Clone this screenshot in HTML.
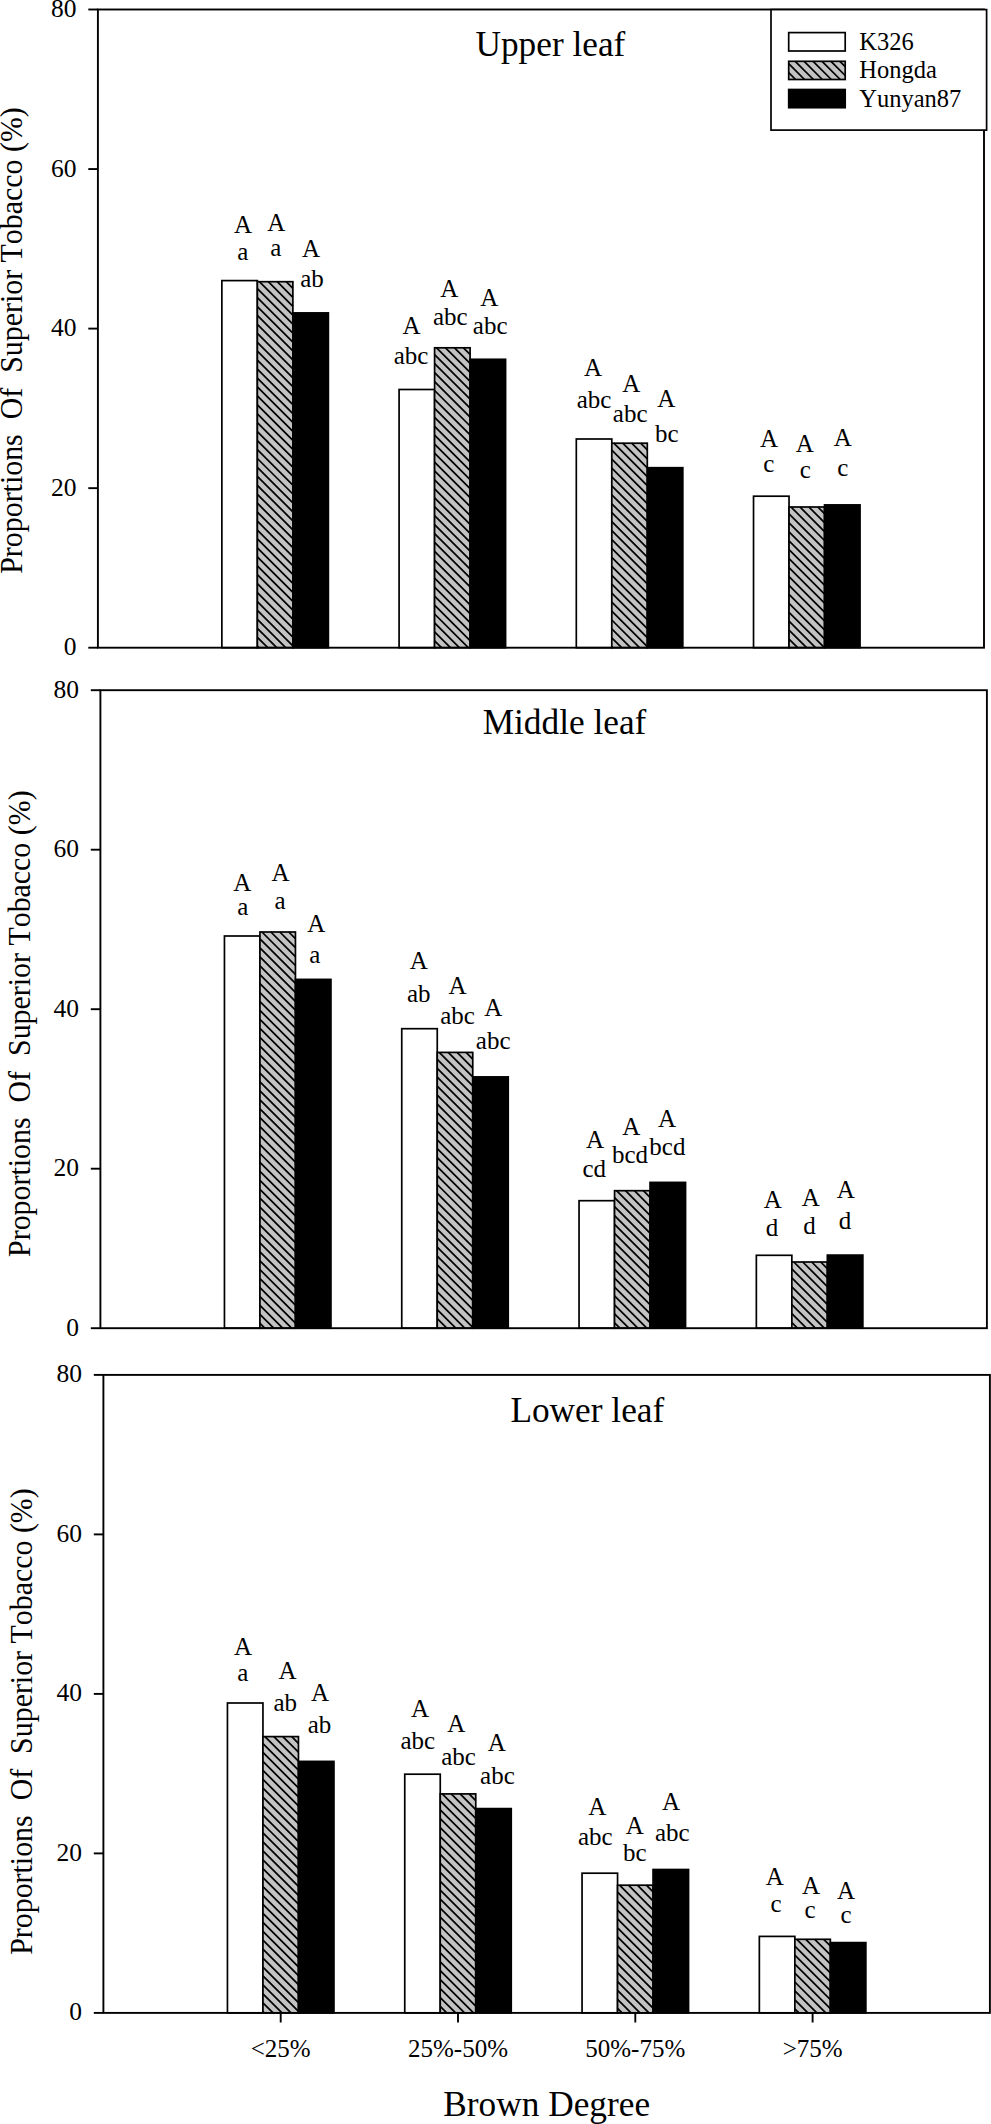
<!DOCTYPE html>
<html lang="en">
<head>
<meta charset="utf-8">
<title>Proportions Of Superior Tobacco by Brown Degree</title>
<style>
html,body{margin:0;padding:0;background:#fff}
body{width:991px;height:2124px;overflow:hidden}
svg text{font-family:"Liberation Serif", "Times New Roman", serif;font-kerning:none;font-variant-ligatures:none}
</style>
</head>
<body>
<svg width="991" height="2124" viewBox="0 0 991 2124" style="display:block;font-family:'Liberation Serif', 'Times New Roman', serif" fill="#000">
<rect x="0" y="0" width="991" height="2124" fill="#fff"/>
<g>
<rect x="221.87" y="280.60" width="35.50" height="367.10" fill="#fff" stroke="#000" stroke-width="1.70"/>
<rect x="257.37" y="281.70" width="35.50" height="366.00" fill="#c3c3c3"/>
<path d="M257.37,646.24L258.83,647.70M257.37,637.30L267.77,647.70M257.37,628.36L276.71,647.70M257.37,619.42L285.65,647.70M257.37,610.48L292.87,645.98M257.37,601.54L292.87,637.04M257.37,592.60L292.87,628.10M257.37,583.66L292.87,619.16M257.37,574.72L292.87,610.22M257.37,565.78L292.87,601.28M257.37,556.84L292.87,592.34M257.37,547.90L292.87,583.40M257.37,538.96L292.87,574.46M257.37,530.02L292.87,565.52M257.37,521.08L292.87,556.58M257.37,512.14L292.87,547.64M257.37,503.20L292.87,538.70M257.37,494.26L292.87,529.76M257.37,485.32L292.87,520.82M257.37,476.38L292.87,511.88M257.37,467.44L292.87,502.94M257.37,458.50L292.87,494.00M257.37,449.56L292.87,485.06M257.37,440.62L292.87,476.12M257.37,431.68L292.87,467.18M257.37,422.74L292.87,458.24M257.37,413.80L292.87,449.30M257.37,404.86L292.87,440.36M257.37,395.92L292.87,431.42M257.37,386.98L292.87,422.48M257.37,378.04L292.87,413.54M257.37,369.10L292.87,404.60M257.37,360.16L292.87,395.66M257.37,351.22L292.87,386.72M257.37,342.28L292.87,377.78M257.37,333.34L292.87,368.84M257.37,324.40L292.87,359.90M257.37,315.46L292.87,350.96M257.37,306.52L292.87,342.02M257.37,297.58L292.87,333.08M257.37,288.64L292.87,324.14M259.37,281.70L292.87,315.20M268.31,281.70L292.87,306.26M277.25,281.70L292.87,297.32M286.19,281.70L292.87,288.38" stroke="#000" stroke-width="1.75" fill="none"/>
<rect x="257.37" y="281.70" width="35.50" height="366.00" fill="none" stroke="#000" stroke-width="1.70"/>
<rect x="292.87" y="312.90" width="35.50" height="334.80" fill="#000" stroke="#000" stroke-width="1.70"/>
<rect x="399.09" y="389.50" width="35.50" height="258.20" fill="#fff" stroke="#000" stroke-width="1.70"/>
<rect x="434.59" y="347.80" width="35.50" height="299.90" fill="#c3c3c3"/>
<path d="M434.59,640.82L441.47,647.70M434.59,631.88L450.41,647.70M434.59,622.94L459.35,647.70M434.59,614.00L468.29,647.70M434.59,605.06L470.09,640.56M434.59,596.12L470.09,631.62M434.59,587.18L470.09,622.68M434.59,578.24L470.09,613.74M434.59,569.30L470.09,604.80M434.59,560.36L470.09,595.86M434.59,551.42L470.09,586.92M434.59,542.48L470.09,577.98M434.59,533.54L470.09,569.04M434.59,524.60L470.09,560.10M434.59,515.66L470.09,551.16M434.59,506.72L470.09,542.22M434.59,497.78L470.09,533.28M434.59,488.84L470.09,524.34M434.59,479.90L470.09,515.40M434.59,470.96L470.09,506.46M434.59,462.02L470.09,497.52M434.59,453.08L470.09,488.58M434.59,444.14L470.09,479.64M434.59,435.20L470.09,470.70M434.59,426.26L470.09,461.76M434.59,417.32L470.09,452.82M434.59,408.38L470.09,443.88M434.59,399.44L470.09,434.94M434.59,390.50L470.09,426.00M434.59,381.56L470.09,417.06M434.59,372.62L470.09,408.12M434.59,363.68L470.09,399.18M434.59,354.74L470.09,390.24M436.59,347.80L470.09,381.30M445.53,347.80L470.09,372.36M454.47,347.80L470.09,363.42M463.41,347.80L470.09,354.48" stroke="#000" stroke-width="1.75" fill="none"/>
<rect x="434.59" y="347.80" width="35.50" height="299.90" fill="none" stroke="#000" stroke-width="1.70"/>
<rect x="470.09" y="359.30" width="35.50" height="288.40" fill="#000" stroke="#000" stroke-width="1.70"/>
<rect x="576.31" y="439.00" width="35.50" height="208.70" fill="#fff" stroke="#000" stroke-width="1.70"/>
<rect x="611.81" y="443.20" width="35.50" height="204.50" fill="#c3c3c3"/>
<path d="M611.81,646.82L612.69,647.70M611.81,637.88L621.63,647.70M611.81,628.94L630.57,647.70M611.81,620.00L639.51,647.70M611.81,611.06L647.31,646.56M611.81,602.12L647.31,637.62M611.81,593.18L647.31,628.68M611.81,584.24L647.31,619.74M611.81,575.30L647.31,610.80M611.81,566.36L647.31,601.86M611.81,557.42L647.31,592.92M611.81,548.48L647.31,583.98M611.81,539.54L647.31,575.04M611.81,530.60L647.31,566.10M611.81,521.66L647.31,557.16M611.81,512.72L647.31,548.22M611.81,503.78L647.31,539.28M611.81,494.84L647.31,530.34M611.81,485.90L647.31,521.40M611.81,476.96L647.31,512.46M611.81,468.02L647.31,503.52M611.81,459.08L647.31,494.58M611.81,450.14L647.31,485.64M613.81,443.20L647.31,476.70M622.75,443.20L647.31,467.76M631.69,443.20L647.31,458.82M640.63,443.20L647.31,449.88" stroke="#000" stroke-width="1.75" fill="none"/>
<rect x="611.81" y="443.20" width="35.50" height="204.50" fill="none" stroke="#000" stroke-width="1.70"/>
<rect x="647.31" y="467.70" width="35.50" height="180.00" fill="#000" stroke="#000" stroke-width="1.70"/>
<rect x="753.53" y="496.20" width="35.50" height="151.50" fill="#fff" stroke="#000" stroke-width="1.70"/>
<rect x="789.03" y="507.00" width="35.50" height="140.70" fill="#c3c3c3"/>
<path d="M789.03,639.10L797.63,647.70M789.03,630.16L806.57,647.70M789.03,621.22L815.51,647.70M789.03,612.28L824.45,647.70M789.03,603.34L824.53,638.84M789.03,594.40L824.53,629.90M789.03,585.46L824.53,620.96M789.03,576.52L824.53,612.02M789.03,567.58L824.53,603.08M789.03,558.64L824.53,594.14M789.03,549.70L824.53,585.20M789.03,540.76L824.53,576.26M789.03,531.82L824.53,567.32M789.03,522.88L824.53,558.38M789.03,513.94L824.53,549.44M791.03,507.00L824.53,540.50M799.97,507.00L824.53,531.56M808.91,507.00L824.53,522.62M817.85,507.00L824.53,513.68" stroke="#000" stroke-width="1.75" fill="none"/>
<rect x="789.03" y="507.00" width="35.50" height="140.70" fill="none" stroke="#000" stroke-width="1.70"/>
<rect x="824.53" y="504.90" width="35.50" height="142.80" fill="#000" stroke="#000" stroke-width="1.70"/>
<rect x="97.90" y="9.50" width="886.10" height="638.20" fill="none" stroke="#000" stroke-width="1.90"/>
<line x1="88.30" y1="9.50" x2="97.90" y2="9.50" stroke="#000" stroke-width="1.90"/>
<text x="76.60" y="17.00" font-size="25.50" text-anchor="end">80</text>
<line x1="88.30" y1="169.05" x2="97.90" y2="169.05" stroke="#000" stroke-width="1.90"/>
<text x="76.60" y="176.55" font-size="25.50" text-anchor="end">60</text>
<line x1="88.30" y1="328.60" x2="97.90" y2="328.60" stroke="#000" stroke-width="1.90"/>
<text x="76.60" y="336.10" font-size="25.50" text-anchor="end">40</text>
<line x1="88.30" y1="488.15" x2="97.90" y2="488.15" stroke="#000" stroke-width="1.90"/>
<text x="76.60" y="495.65" font-size="25.50" text-anchor="end">20</text>
<line x1="88.30" y1="647.70" x2="97.90" y2="647.70" stroke="#000" stroke-width="1.90"/>
<text x="76.60" y="655.20" font-size="25.50" text-anchor="end">0</text>
<text x="550.40" y="56.20" font-size="35.30" text-anchor="middle">Upper leaf</text>
<text transform="translate(21.90,573.75) rotate(-90)" font-size="30.60" textLength="466.5" lengthAdjust="spacingAndGlyphs" xml:space="preserve" style="white-space:pre">Proportions  Of  Superior Tobacco (%)</text>
<text x="243.10" y="233.20" font-size="25.00" text-anchor="middle">A</text>
<text x="242.80" y="260.10" font-size="25.00" text-anchor="middle">a</text>
<text x="276.40" y="231.40" font-size="25.00" text-anchor="middle">A</text>
<text x="275.80" y="255.60" font-size="25.00" text-anchor="middle">a</text>
<text x="311.00" y="257.20" font-size="25.00" text-anchor="middle">A</text>
<text x="312.00" y="287.30" font-size="25.00" text-anchor="middle">ab</text>
<text x="411.60" y="333.90" font-size="25.00" text-anchor="middle">A</text>
<text x="411.10" y="364.00" font-size="25.00" text-anchor="middle">abc</text>
<text x="449.30" y="296.60" font-size="25.00" text-anchor="middle">A</text>
<text x="450.30" y="324.90" font-size="25.00" text-anchor="middle">abc</text>
<text x="489.30" y="305.60" font-size="25.00" text-anchor="middle">A</text>
<text x="490.20" y="334.10" font-size="25.00" text-anchor="middle">abc</text>
<text x="593.10" y="376.40" font-size="25.00" text-anchor="middle">A</text>
<text x="594.10" y="407.60" font-size="25.00" text-anchor="middle">abc</text>
<text x="631.20" y="391.80" font-size="25.00" text-anchor="middle">A</text>
<text x="630.20" y="422.40" font-size="25.00" text-anchor="middle">abc</text>
<text x="666.30" y="407.10" font-size="25.00" text-anchor="middle">A</text>
<text x="666.80" y="441.80" font-size="25.00" text-anchor="middle">bc</text>
<text x="769.00" y="447.30" font-size="25.00" text-anchor="middle">A</text>
<text x="768.70" y="472.10" font-size="25.00" text-anchor="middle">c</text>
<text x="804.70" y="451.80" font-size="25.00" text-anchor="middle">A</text>
<text x="805.40" y="478.20" font-size="25.00" text-anchor="middle">c</text>
<text x="842.70" y="446.30" font-size="25.00" text-anchor="middle">A</text>
<text x="842.70" y="476.00" font-size="25.00" text-anchor="middle">c</text>
</g>
<g>
<rect x="224.45" y="936.00" width="35.50" height="392.20" fill="#fff" stroke="#000" stroke-width="1.70"/>
<rect x="259.95" y="932.00" width="35.50" height="396.20" fill="#c3c3c3"/>
<path d="M259.95,1323.36L264.79,1328.20M259.95,1314.42L273.73,1328.20M259.95,1305.48L282.67,1328.20M259.95,1296.54L291.61,1328.20M259.95,1287.60L295.45,1323.10M259.95,1278.66L295.45,1314.16M259.95,1269.72L295.45,1305.22M259.95,1260.78L295.45,1296.28M259.95,1251.84L295.45,1287.34M259.95,1242.90L295.45,1278.40M259.95,1233.96L295.45,1269.46M259.95,1225.02L295.45,1260.52M259.95,1216.08L295.45,1251.58M259.95,1207.14L295.45,1242.64M259.95,1198.20L295.45,1233.70M259.95,1189.26L295.45,1224.76M259.95,1180.32L295.45,1215.82M259.95,1171.38L295.45,1206.88M259.95,1162.44L295.45,1197.94M259.95,1153.50L295.45,1189.00M259.95,1144.56L295.45,1180.06M259.95,1135.62L295.45,1171.12M259.95,1126.68L295.45,1162.18M259.95,1117.74L295.45,1153.24M259.95,1108.80L295.45,1144.30M259.95,1099.86L295.45,1135.36M259.95,1090.92L295.45,1126.42M259.95,1081.98L295.45,1117.48M259.95,1073.04L295.45,1108.54M259.95,1064.10L295.45,1099.60M259.95,1055.16L295.45,1090.66M259.95,1046.22L295.45,1081.72M259.95,1037.28L295.45,1072.78M259.95,1028.34L295.45,1063.84M259.95,1019.40L295.45,1054.90M259.95,1010.46L295.45,1045.96M259.95,1001.52L295.45,1037.02M259.95,992.58L295.45,1028.08M259.95,983.64L295.45,1019.14M259.95,974.70L295.45,1010.20M259.95,965.76L295.45,1001.26M259.95,956.82L295.45,992.32M259.95,947.88L295.45,983.38M259.95,938.94L295.45,974.44M261.95,932.00L295.45,965.50M270.89,932.00L295.45,956.56M279.83,932.00L295.45,947.62M288.77,932.00L295.45,938.68" stroke="#000" stroke-width="1.75" fill="none"/>
<rect x="259.95" y="932.00" width="35.50" height="396.20" fill="none" stroke="#000" stroke-width="1.70"/>
<rect x="295.45" y="979.40" width="35.50" height="348.80" fill="#000" stroke="#000" stroke-width="1.70"/>
<rect x="401.75" y="1028.70" width="35.50" height="299.50" fill="#fff" stroke="#000" stroke-width="1.70"/>
<rect x="437.25" y="1052.40" width="35.50" height="275.80" fill="#c3c3c3"/>
<path d="M437.25,1327.54L437.91,1328.20M437.25,1318.60L446.85,1328.20M437.25,1309.66L455.79,1328.20M437.25,1300.72L464.73,1328.20M437.25,1291.78L472.75,1327.28M437.25,1282.84L472.75,1318.34M437.25,1273.90L472.75,1309.40M437.25,1264.96L472.75,1300.46M437.25,1256.02L472.75,1291.52M437.25,1247.08L472.75,1282.58M437.25,1238.14L472.75,1273.64M437.25,1229.20L472.75,1264.70M437.25,1220.26L472.75,1255.76M437.25,1211.32L472.75,1246.82M437.25,1202.38L472.75,1237.88M437.25,1193.44L472.75,1228.94M437.25,1184.50L472.75,1220.00M437.25,1175.56L472.75,1211.06M437.25,1166.62L472.75,1202.12M437.25,1157.68L472.75,1193.18M437.25,1148.74L472.75,1184.24M437.25,1139.80L472.75,1175.30M437.25,1130.86L472.75,1166.36M437.25,1121.92L472.75,1157.42M437.25,1112.98L472.75,1148.48M437.25,1104.04L472.75,1139.54M437.25,1095.10L472.75,1130.60M437.25,1086.16L472.75,1121.66M437.25,1077.22L472.75,1112.72M437.25,1068.28L472.75,1103.78M437.25,1059.34L472.75,1094.84M439.25,1052.40L472.75,1085.90M448.19,1052.40L472.75,1076.96M457.13,1052.40L472.75,1068.02M466.07,1052.40L472.75,1059.08" stroke="#000" stroke-width="1.75" fill="none"/>
<rect x="437.25" y="1052.40" width="35.50" height="275.80" fill="none" stroke="#000" stroke-width="1.70"/>
<rect x="472.75" y="1076.90" width="35.50" height="251.30" fill="#000" stroke="#000" stroke-width="1.70"/>
<rect x="579.05" y="1200.70" width="35.50" height="127.50" fill="#fff" stroke="#000" stroke-width="1.70"/>
<rect x="614.55" y="1190.70" width="35.50" height="137.50" fill="#c3c3c3"/>
<path d="M614.55,1322.80L619.95,1328.20M614.55,1313.86L628.89,1328.20M614.55,1304.92L637.83,1328.20M614.55,1295.98L646.77,1328.20M614.55,1287.04L650.05,1322.54M614.55,1278.10L650.05,1313.60M614.55,1269.16L650.05,1304.66M614.55,1260.22L650.05,1295.72M614.55,1251.28L650.05,1286.78M614.55,1242.34L650.05,1277.84M614.55,1233.40L650.05,1268.90M614.55,1224.46L650.05,1259.96M614.55,1215.52L650.05,1251.02M614.55,1206.58L650.05,1242.08M614.55,1197.64L650.05,1233.14M616.55,1190.70L650.05,1224.20M625.49,1190.70L650.05,1215.26M634.43,1190.70L650.05,1206.32M643.37,1190.70L650.05,1197.38" stroke="#000" stroke-width="1.75" fill="none"/>
<rect x="614.55" y="1190.70" width="35.50" height="137.50" fill="none" stroke="#000" stroke-width="1.70"/>
<rect x="650.05" y="1182.40" width="35.50" height="145.80" fill="#000" stroke="#000" stroke-width="1.70"/>
<rect x="756.35" y="1255.30" width="35.50" height="72.90" fill="#fff" stroke="#000" stroke-width="1.70"/>
<rect x="791.85" y="1262.00" width="35.50" height="66.20" fill="#c3c3c3"/>
<path d="M791.85,1322.58L797.47,1328.20M791.85,1313.64L806.41,1328.20M791.85,1304.70L815.35,1328.20M791.85,1295.76L824.29,1328.20M791.85,1286.82L827.35,1322.32M791.85,1277.88L827.35,1313.38M791.85,1268.94L827.35,1304.44M793.85,1262.00L827.35,1295.50M802.79,1262.00L827.35,1286.56M811.73,1262.00L827.35,1277.62M820.67,1262.00L827.35,1268.68" stroke="#000" stroke-width="1.75" fill="none"/>
<rect x="791.85" y="1262.00" width="35.50" height="66.20" fill="none" stroke="#000" stroke-width="1.70"/>
<rect x="827.35" y="1255.10" width="35.50" height="73.10" fill="#000" stroke="#000" stroke-width="1.70"/>
<rect x="100.40" y="690.20" width="886.50" height="638.00" fill="none" stroke="#000" stroke-width="1.90"/>
<line x1="90.80" y1="690.20" x2="100.40" y2="690.20" stroke="#000" stroke-width="1.90"/>
<text x="79.10" y="697.70" font-size="25.50" text-anchor="end">80</text>
<line x1="90.80" y1="849.70" x2="100.40" y2="849.70" stroke="#000" stroke-width="1.90"/>
<text x="79.10" y="857.20" font-size="25.50" text-anchor="end">60</text>
<line x1="90.80" y1="1009.20" x2="100.40" y2="1009.20" stroke="#000" stroke-width="1.90"/>
<text x="79.10" y="1016.70" font-size="25.50" text-anchor="end">40</text>
<line x1="90.80" y1="1168.70" x2="100.40" y2="1168.70" stroke="#000" stroke-width="1.90"/>
<text x="79.10" y="1176.20" font-size="25.50" text-anchor="end">20</text>
<line x1="90.80" y1="1328.20" x2="100.40" y2="1328.20" stroke="#000" stroke-width="1.90"/>
<text x="79.10" y="1335.70" font-size="25.50" text-anchor="end">0</text>
<text x="564.50" y="733.70" font-size="35.30" text-anchor="middle">Middle leaf</text>
<text transform="translate(29.70,1256.90) rotate(-90)" font-size="30.60" textLength="466.5" lengthAdjust="spacingAndGlyphs" xml:space="preserve" style="white-space:pre">Proportions  Of  Superior Tobacco (%)</text>
<text x="242.40" y="890.70" font-size="25.00" text-anchor="middle">A</text>
<text x="242.80" y="915.10" font-size="25.00" text-anchor="middle">a</text>
<text x="280.50" y="881.40" font-size="25.00" text-anchor="middle">A</text>
<text x="280.10" y="909.00" font-size="25.00" text-anchor="middle">a</text>
<text x="316.30" y="931.60" font-size="25.00" text-anchor="middle">A</text>
<text x="314.80" y="962.80" font-size="25.00" text-anchor="middle">a</text>
<text x="418.80" y="969.00" font-size="25.00" text-anchor="middle">A</text>
<text x="418.80" y="1001.80" font-size="25.00" text-anchor="middle">ab</text>
<text x="457.60" y="994.10" font-size="25.00" text-anchor="middle">A</text>
<text x="457.50" y="1024.10" font-size="25.00" text-anchor="middle">abc</text>
<text x="493.20" y="1016.30" font-size="25.00" text-anchor="middle">A</text>
<text x="493.20" y="1048.90" font-size="25.00" text-anchor="middle">abc</text>
<text x="595.10" y="1147.90" font-size="25.00" text-anchor="middle">A</text>
<text x="594.20" y="1177.00" font-size="25.00" text-anchor="middle">cd</text>
<text x="631.40" y="1134.50" font-size="25.00" text-anchor="middle">A</text>
<text x="630.00" y="1162.80" font-size="25.00" text-anchor="middle">bcd</text>
<text x="667.00" y="1127.00" font-size="25.00" text-anchor="middle">A</text>
<text x="667.40" y="1154.80" font-size="25.00" text-anchor="middle">bcd</text>
<text x="772.80" y="1208.20" font-size="25.00" text-anchor="middle">A</text>
<text x="772.10" y="1235.60" font-size="25.00" text-anchor="middle">d</text>
<text x="810.80" y="1205.80" font-size="25.00" text-anchor="middle">A</text>
<text x="809.40" y="1233.90" font-size="25.00" text-anchor="middle">d</text>
<text x="845.80" y="1198.30" font-size="25.00" text-anchor="middle">A</text>
<text x="845.10" y="1228.80" font-size="25.00" text-anchor="middle">d</text>
</g>
<g>
<rect x="227.45" y="1703.00" width="35.50" height="309.90" fill="#fff" stroke="#000" stroke-width="1.70"/>
<rect x="262.95" y="1736.60" width="35.50" height="276.30" fill="#c3c3c3"/>
<path d="M262.95,2011.74L264.11,2012.90M262.95,2002.80L273.05,2012.90M262.95,1993.86L281.99,2012.90M262.95,1984.92L290.93,2012.90M262.95,1975.98L298.45,2011.48M262.95,1967.04L298.45,2002.54M262.95,1958.10L298.45,1993.60M262.95,1949.16L298.45,1984.66M262.95,1940.22L298.45,1975.72M262.95,1931.28L298.45,1966.78M262.95,1922.34L298.45,1957.84M262.95,1913.40L298.45,1948.90M262.95,1904.46L298.45,1939.96M262.95,1895.52L298.45,1931.02M262.95,1886.58L298.45,1922.08M262.95,1877.64L298.45,1913.14M262.95,1868.70L298.45,1904.20M262.95,1859.76L298.45,1895.26M262.95,1850.82L298.45,1886.32M262.95,1841.88L298.45,1877.38M262.95,1832.94L298.45,1868.44M262.95,1824.00L298.45,1859.50M262.95,1815.06L298.45,1850.56M262.95,1806.12L298.45,1841.62M262.95,1797.18L298.45,1832.68M262.95,1788.24L298.45,1823.74M262.95,1779.30L298.45,1814.80M262.95,1770.36L298.45,1805.86M262.95,1761.42L298.45,1796.92M262.95,1752.48L298.45,1787.98M262.95,1743.54L298.45,1779.04M264.95,1736.60L298.45,1770.10M273.89,1736.60L298.45,1761.16M282.83,1736.60L298.45,1752.22M291.77,1736.60L298.45,1743.28" stroke="#000" stroke-width="1.75" fill="none"/>
<rect x="262.95" y="1736.60" width="35.50" height="276.30" fill="none" stroke="#000" stroke-width="1.70"/>
<rect x="298.45" y="1761.40" width="35.50" height="251.50" fill="#000" stroke="#000" stroke-width="1.70"/>
<rect x="404.75" y="1774.20" width="35.50" height="238.70" fill="#fff" stroke="#000" stroke-width="1.70"/>
<rect x="440.25" y="1793.90" width="35.50" height="219.00" fill="#c3c3c3"/>
<path d="M440.25,2006.46L446.69,2012.90M440.25,1997.52L455.63,2012.90M440.25,1988.58L464.57,2012.90M440.25,1979.64L473.51,2012.90M440.25,1970.70L475.75,2006.20M440.25,1961.76L475.75,1997.26M440.25,1952.82L475.75,1988.32M440.25,1943.88L475.75,1979.38M440.25,1934.94L475.75,1970.44M440.25,1926.00L475.75,1961.50M440.25,1917.06L475.75,1952.56M440.25,1908.12L475.75,1943.62M440.25,1899.18L475.75,1934.68M440.25,1890.24L475.75,1925.74M440.25,1881.30L475.75,1916.80M440.25,1872.36L475.75,1907.86M440.25,1863.42L475.75,1898.92M440.25,1854.48L475.75,1889.98M440.25,1845.54L475.75,1881.04M440.25,1836.60L475.75,1872.10M440.25,1827.66L475.75,1863.16M440.25,1818.72L475.75,1854.22M440.25,1809.78L475.75,1845.28M440.25,1800.84L475.75,1836.34M442.25,1793.90L475.75,1827.40M451.19,1793.90L475.75,1818.46M460.13,1793.90L475.75,1809.52M469.07,1793.90L475.75,1800.58" stroke="#000" stroke-width="1.75" fill="none"/>
<rect x="440.25" y="1793.90" width="35.50" height="219.00" fill="none" stroke="#000" stroke-width="1.70"/>
<rect x="475.75" y="1808.60" width="35.50" height="204.30" fill="#000" stroke="#000" stroke-width="1.70"/>
<rect x="582.05" y="1873.20" width="35.50" height="139.70" fill="#fff" stroke="#000" stroke-width="1.70"/>
<rect x="617.55" y="1885.20" width="35.50" height="127.70" fill="#c3c3c3"/>
<path d="M617.55,2008.36L622.09,2012.90M617.55,1999.42L631.03,2012.90M617.55,1990.48L639.97,2012.90M617.55,1981.54L648.91,2012.90M617.55,1972.60L653.05,2008.10M617.55,1963.66L653.05,1999.16M617.55,1954.72L653.05,1990.22M617.55,1945.78L653.05,1981.28M617.55,1936.84L653.05,1972.34M617.55,1927.90L653.05,1963.40M617.55,1918.96L653.05,1954.46M617.55,1910.02L653.05,1945.52M617.55,1901.08L653.05,1936.58M617.55,1892.14L653.05,1927.64M619.55,1885.20L653.05,1918.70M628.49,1885.20L653.05,1909.76M637.43,1885.20L653.05,1900.82M646.37,1885.20L653.05,1891.88" stroke="#000" stroke-width="1.75" fill="none"/>
<rect x="617.55" y="1885.20" width="35.50" height="127.70" fill="none" stroke="#000" stroke-width="1.70"/>
<rect x="653.05" y="1869.50" width="35.50" height="143.40" fill="#000" stroke="#000" stroke-width="1.70"/>
<rect x="759.35" y="1936.40" width="35.50" height="76.50" fill="#fff" stroke="#000" stroke-width="1.70"/>
<rect x="794.85" y="1939.30" width="35.50" height="73.60" fill="#c3c3c3"/>
<path d="M794.85,2008.82L798.93,2012.90M794.85,1999.88L807.87,2012.90M794.85,1990.94L816.81,2012.90M794.85,1982.00L825.75,2012.90M794.85,1973.06L830.35,2008.56M794.85,1964.12L830.35,1999.62M794.85,1955.18L830.35,1990.68M794.85,1946.24L830.35,1981.74M796.85,1939.30L830.35,1972.80M805.79,1939.30L830.35,1963.86M814.73,1939.30L830.35,1954.92M823.67,1939.30L830.35,1945.98" stroke="#000" stroke-width="1.75" fill="none"/>
<rect x="794.85" y="1939.30" width="35.50" height="73.60" fill="none" stroke="#000" stroke-width="1.70"/>
<rect x="830.35" y="1942.60" width="35.50" height="70.30" fill="#000" stroke="#000" stroke-width="1.70"/>
<rect x="103.40" y="1374.90" width="886.50" height="638.00" fill="none" stroke="#000" stroke-width="1.90"/>
<line x1="93.80" y1="1374.90" x2="103.40" y2="1374.90" stroke="#000" stroke-width="1.90"/>
<text x="82.10" y="1382.40" font-size="25.50" text-anchor="end">80</text>
<line x1="93.80" y1="1534.40" x2="103.40" y2="1534.40" stroke="#000" stroke-width="1.90"/>
<text x="82.10" y="1541.90" font-size="25.50" text-anchor="end">60</text>
<line x1="93.80" y1="1693.90" x2="103.40" y2="1693.90" stroke="#000" stroke-width="1.90"/>
<text x="82.10" y="1701.40" font-size="25.50" text-anchor="end">40</text>
<line x1="93.80" y1="1853.40" x2="103.40" y2="1853.40" stroke="#000" stroke-width="1.90"/>
<text x="82.10" y="1860.90" font-size="25.50" text-anchor="end">20</text>
<line x1="93.80" y1="2012.90" x2="103.40" y2="2012.90" stroke="#000" stroke-width="1.90"/>
<text x="82.10" y="2020.40" font-size="25.50" text-anchor="end">0</text>
<text x="587.30" y="1421.70" font-size="35.30" text-anchor="middle">Lower leaf</text>
<text transform="translate(32.10,1954.80) rotate(-90)" font-size="30.60" textLength="466.5" lengthAdjust="spacingAndGlyphs" xml:space="preserve" style="white-space:pre">Proportions  Of  Superior Tobacco (%)</text>
<text x="243.00" y="1655.00" font-size="25.00" text-anchor="middle">A</text>
<text x="242.80" y="1681.10" font-size="25.00" text-anchor="middle">a</text>
<text x="287.50" y="1678.60" font-size="25.00" text-anchor="middle">A</text>
<text x="285.30" y="1710.50" font-size="25.00" text-anchor="middle">ab</text>
<text x="320.00" y="1701.20" font-size="25.00" text-anchor="middle">A</text>
<text x="319.50" y="1733.40" font-size="25.00" text-anchor="middle">ab</text>
<text x="420.10" y="1716.80" font-size="25.00" text-anchor="middle">A</text>
<text x="417.80" y="1749.10" font-size="25.00" text-anchor="middle">abc</text>
<text x="456.40" y="1732.00" font-size="25.00" text-anchor="middle">A</text>
<text x="458.50" y="1764.70" font-size="25.00" text-anchor="middle">abc</text>
<text x="496.70" y="1750.50" font-size="25.00" text-anchor="middle">A</text>
<text x="497.40" y="1784.00" font-size="25.00" text-anchor="middle">abc</text>
<text x="597.20" y="1814.50" font-size="25.00" text-anchor="middle">A</text>
<text x="595.30" y="1844.70" font-size="25.00" text-anchor="middle">abc</text>
<text x="634.80" y="1834.30" font-size="25.00" text-anchor="middle">A</text>
<text x="634.80" y="1861.20" font-size="25.00" text-anchor="middle">bc</text>
<text x="671.10" y="1810.30" font-size="25.00" text-anchor="middle">A</text>
<text x="672.30" y="1841.00" font-size="25.00" text-anchor="middle">abc</text>
<text x="774.70" y="1884.50" font-size="25.00" text-anchor="middle">A</text>
<text x="776.10" y="1912.10" font-size="25.00" text-anchor="middle">c</text>
<text x="811.00" y="1893.70" font-size="25.00" text-anchor="middle">A</text>
<text x="810.00" y="1918.20" font-size="25.00" text-anchor="middle">c</text>
<text x="846.00" y="1899.00" font-size="25.00" text-anchor="middle">A</text>
<text x="846.00" y="1923.40" font-size="25.00" text-anchor="middle">c</text>
</g>
<line x1="280.70" y1="2012.90" x2="280.70" y2="2022.50" stroke="#000" stroke-width="1.90"/>
<text x="280.70" y="2056.80" font-size="25.00" text-anchor="middle">&lt;25%</text>
<line x1="458.00" y1="2012.90" x2="458.00" y2="2022.50" stroke="#000" stroke-width="1.90"/>
<text x="458.00" y="2056.80" font-size="25.00" text-anchor="middle">25%-50%</text>
<line x1="635.30" y1="2012.90" x2="635.30" y2="2022.50" stroke="#000" stroke-width="1.90"/>
<text x="635.30" y="2056.80" font-size="25.00" text-anchor="middle">50%-75%</text>
<line x1="812.60" y1="2012.90" x2="812.60" y2="2022.50" stroke="#000" stroke-width="1.90"/>
<text x="812.60" y="2056.80" font-size="25.00" text-anchor="middle">&gt;75%</text>
<text x="546.70" y="2116.10" font-size="35.30" text-anchor="middle">Brown Degree</text>
<g>
<rect x="771.0" y="9.6" width="215.6" height="120.5" fill="#fff" stroke="#000" stroke-width="1.7"/>
<rect x="788.70" y="32.60" width="56.50" height="18.40" fill="#fff" stroke="#000" stroke-width="1.7"/>
<rect x="788.70" y="61.30" width="56.50" height="18.20" fill="#c3c3c3"/>
<path d="M788.70,72.64L795.56,79.50M788.70,63.70L804.50,79.50M795.24,61.30L813.44,79.50M804.18,61.30L822.38,79.50M813.12,61.30L831.32,79.50M822.06,61.30L840.26,79.50M831.00,61.30L845.20,75.50M839.94,61.30L845.20,66.56" stroke="#000" stroke-width="1.75" fill="none"/>
<rect x="788.70" y="61.30" width="56.50" height="18.20" fill="none" stroke="#000" stroke-width="1.7"/>
<rect x="788.70" y="89.50" width="56.50" height="18.20" fill="#000" stroke="#000" stroke-width="1.7"/>
<text x="859.2" y="50.30" font-size="24.50">K326</text>
<text x="859.2" y="78.40" font-size="24.50">Hongda</text>
<text x="859.2" y="106.50" font-size="24.50">Yunyan87</text>
</g>
</svg>
</body>
</html>
